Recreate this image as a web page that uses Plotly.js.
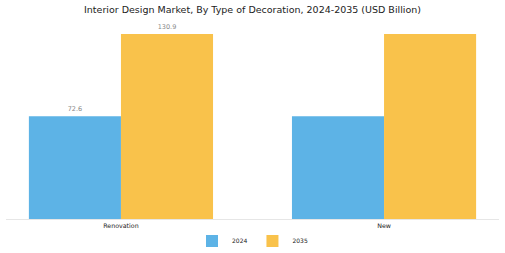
<!DOCTYPE html>
<html><head><meta charset="utf-8">
<script src="https://cdn.plot.ly/plotly-3.0.1.min.js"></script>
<style>html,body{margin:0;padding:0;background:#fff}#c{width:505px;height:253px}</style>
</head><body><div id="c"></div>
<script>
const categories = ["Renovation", "New"];
const values2024 = [72.6, 72.6];
const values2035 = [130.9, 130.9];
const labels2024 = ["72.6", ""];
const labels2035 = ["130.9", ""];
const font = "DejaVu Sans, sans-serif";
const traces = [
  {type: "bar", name: "2024", x: categories, y: values2024, marker: {color: "#5DB3E6"},
   text: labels2024, textposition: "outside", textfont: {size: 6.5, color: "#888", family: font}, cliponaxis: false},
  {type: "bar", name: "2035", x: categories, y: values2035, marker: {color: "#F9C24B"},
   text: labels2035, textposition: "outside", textfont: {size: 6.5, color: "#888", family: font}, cliponaxis: false}
];
const layout = {
  width: 505, height: 253,
  margin: {l: 6, r: 6, t: 30, b: 34, autoexpand: false},
  paper_bgcolor: "#fff", plot_bgcolor: "#fff",
  font: {family: font, size: 7, color: "#222"},
  title: {text: "Interior Design Market, By Type of Decoration, 2024-2035 (USD Billion)", x: 0.5, xanchor: "center", yref: "container", y: 0.96, yanchor: "middle", font: {size: 9.5, family: font, color: "#222"}},
  barmode: "group", bargap: 0.3, bargroupgap: 0,
  xaxis: {range: [-0.437, 1.437], showline: true, linecolor: "#e6e6e6", linewidth: 1, ticks: "", tickfont: {size: 6.3, color: "#222"}, showgrid: false, zeroline: false, automargin: false},
  yaxis: {range: [0, 133.7], visible: false, showgrid: false, zeroline: false},
  showlegend: true,
  legend: {orientation: "h", x: 0.5, xanchor: "center", yref: "container", y: 0.047, yanchor: "middle", font: {size: 6}, itemwidth: 30}
};
Plotly.newPlot("c", traces, layout, {staticPlot: true, displayModeBar: false});
</script></body></html>
